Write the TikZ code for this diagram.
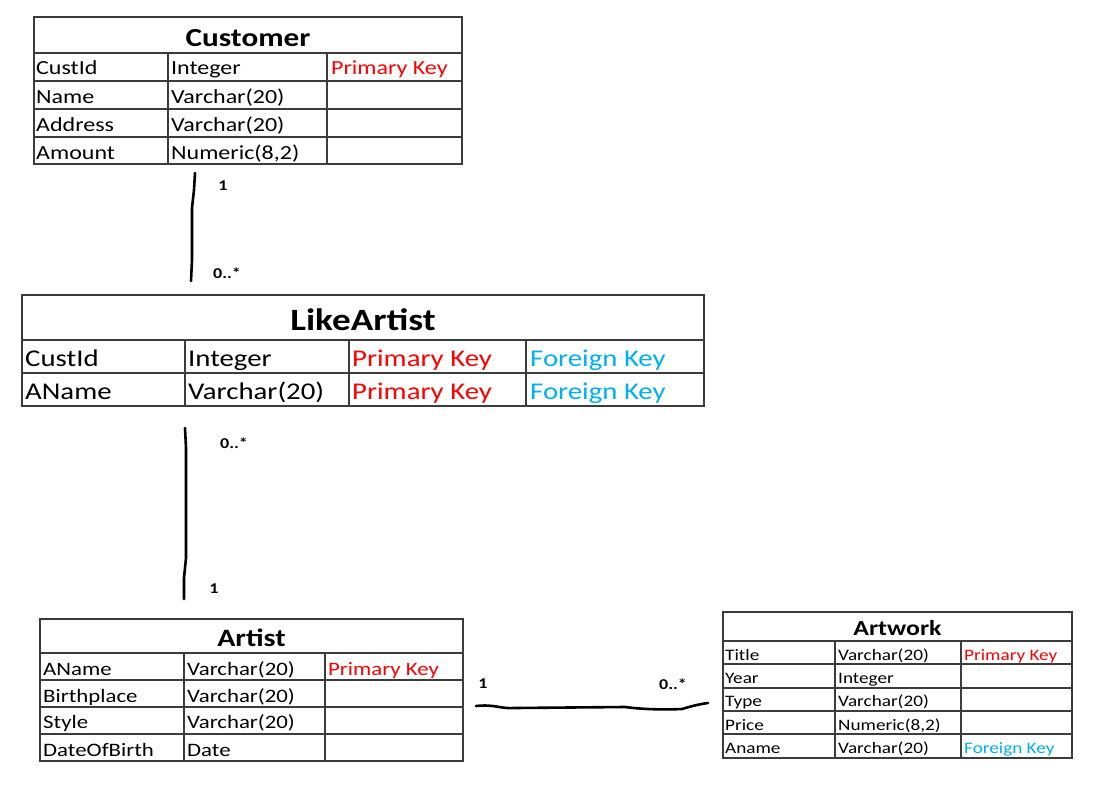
\documentclass[tikz,border=0pt]{standalone}
\usepackage{fontspec}
\setmainfont{Carlito}[FakeStretch=1.2]
\definecolor{pkred}{RGB}{255,0,0}
\definecolor{fkblue}{RGB}{0,176,240}
\definecolor{gridgray}{RGB}{60,60,60}
\newcommand{\fsz}[1]{\fontsize{#1bp}{#1bp}\selectfont}
\tikzset{
  grid/.style={draw=gridgray, line width=1.3bp},
  frame/.style={draw=gridgray, line width=1.8bp},
  cell/.style={anchor=base west, inner sep=0pt},
  ttl/.style={anchor=base, inner sep=0pt},
  pk/.style={cell, text=pkred},
  fk/.style={cell, text=fkblue},
  hand/.style={draw=black, line width=2.6bp, line cap=round, line join=round},
  mult/.style={anchor=center, inner sep=0pt, font=\bfseries\fsz{15}}
}
\begin{document}
\begin{tikzpicture}[x=1bp,y=-1bp]
\useasboundingbox (0,0) rectangle (1093,793);
\fill[white] (0,0) rectangle (1093,793);

% ---------------- Customer ----------------
\foreach \y in {53,81,109,137} \draw[grid] (34,\y) -- (462,\y);
\foreach \x in {168,327} \draw[grid] (\x,53) -- (\x,164);
\draw[frame] (34,17) rectangle (462,164);
\node[ttl, font=\bfseries\fsz{26}] (cust) at (248,46.5) {Customer};
\begin{scope}[every node/.append style={font=\fsz{20}}]
\node[cell] (cu11) at (36,75) {CustId};
\node[cell] (cu12) at (171,75) {Integer};
\node[pk]   (cu13) at (331,75) {Primary Key};
\node[cell] (cu21) at (36,103.5) {Name};
\node[cell] (cu22) at (171,103.5) {Varchar(20)};
\node[cell] (cu31) at (36,131.5) {Address};
\node[cell] (cu32) at (171,131.5) {Varchar(20)};
\node[cell] (cu41) at (36,159.5) {Amount};
\node[cell] (cu42) at (171,159.5) {Numeric(8,2)};
\end{scope}

% ---------------- LikeArtist ----------------
\foreach \y in {340,373} \draw[grid] (22,\y) -- (704,\y);
\foreach \x in {185,349,526} \draw[grid] (\x,340) -- (\x,406);
\draw[frame] (22,295) rectangle (704,406);
\node[ttl, font=\bfseries\fsz{31}] (like) at (363,330.5) {LikeArtist};
\begin{scope}[every node/.append style={font=\fsz{24}}]
\node[cell] (la11) at (25,366) {CustId};
\node[cell] (la12) at (188,366) {Integer};
\node[pk]   (la13) at (352,366) {Primary Key};
\node[fk]   (la14) at (530,366) {Foreign Key};
\node[cell] (la21) at (25,399.5) {AName};
\node[cell] (la22) at (188,399.5) {Varchar(20)};
\node[pk]   (la23) at (352,399.5) {Primary Key};
\node[fk]   (la24) at (530,399.5) {Foreign Key};
\end{scope}

% ---------------- Artist ----------------
\foreach \y in {653,680,707,734} \draw[grid] (40,\y) -- (463,\y);
\foreach \x in {184,325} \draw[grid] (\x,653) -- (\x,761);
\draw[frame] (40,619) rectangle (463,761);
\node[ttl, font=\bfseries\fsz{25}] (art) at (251.5,646) {Artist};
\begin{scope}[every node/.append style={font=\fsz{19}}]
\node[cell] (ar11) at (43,675) {AName};
\node[cell] (ar12) at (187,675) {Varchar(20)};
\node[pk]   (ar13) at (328,675) {Primary Key};
\node[cell] (ar21) at (43,702.5) {Birthplace};
\node[cell] (ar22) at (187,702.5) {Varchar(20)};
\node[cell] (ar31) at (43,728.5) {Style};
\node[cell] (ar32) at (187,728.5) {Varchar(20)};
\node[cell] (ar41) at (43,756) {DateOfBirth};
\node[cell] (ar42) at (187,756) {Date};
\end{scope}

% ---------------- Artwork ----------------
\foreach \y in {641,664,688,711,734} \draw[grid] (723,\y) -- (1072,\y);
\foreach \x in {835,961} \draw[grid] (\x,641) -- (\x,758);
\draw[frame] (723,612) rectangle (1072,758);
\node[ttl, font=\bfseries\fsz{21.5}] (work) at (897.5,635) {Artwork};
\begin{scope}[every node/.append style={font=\fsz{16}}]
\node[cell] (aw11) at (725,660) {Title};
\node[cell] (aw12) at (838,660) {Varchar(20)};
\node[pk]   (aw13) at (964,660) {Primary Key};
\node[cell] (aw21) at (725,683) {Year};
\node[cell] (aw22) at (838,683) {Integer};
\node[cell] (aw31) at (725,706.5) {Type};
\node[cell] (aw32) at (838,706.5) {Varchar(20)};
\node[cell] (aw41) at (725,730) {Price};
\node[cell] (aw42) at (838,730) {Numeric(8,2)};
\node[cell] (aw51) at (725,753) {Aname};
\node[cell] (aw52) at (838,753) {Varchar(20)};
\node[fk]   (aw53) at (964,753) {Foreign Key};
\end{scope}

% ---------------- connectors ----------------
\coordinate (c1a) at (195,173);
\coordinate (c1b) at (191,281);
\draw[hand] (c1a) -- (194,190) -- (192,208) -- (192,260) -- (c1b);
\node[mult] (m1a) at (223,186) {1};
\node[mult] (m1b) at (227,273) {0..*};

\coordinate (c2a) at (185,428);
\coordinate (c2b) at (184,599);
\draw[hand] (c2a) -- (186,448) -- (186,558) -- (184,578) -- (c2b);
\node[mult] (m2a) at (234,443) {0..*};
\node[mult] (m2b) at (214,589) {1};

\coordinate (c3a) at (476,706);
\coordinate (c3b) at (708,703);
\draw[hand] (c3a) .. controls (495,704) and (500,709) .. (515,708)
  -- (625,707) .. controls (640,709) and (660,710) .. (682,709)
  .. controls (692,706) and (700,704) .. (c3b);
\node[mult] (m3a) at (483,684) {1};
\node[mult] (m3b) at (673,684) {0..*};
\end{tikzpicture}
\end{document}
